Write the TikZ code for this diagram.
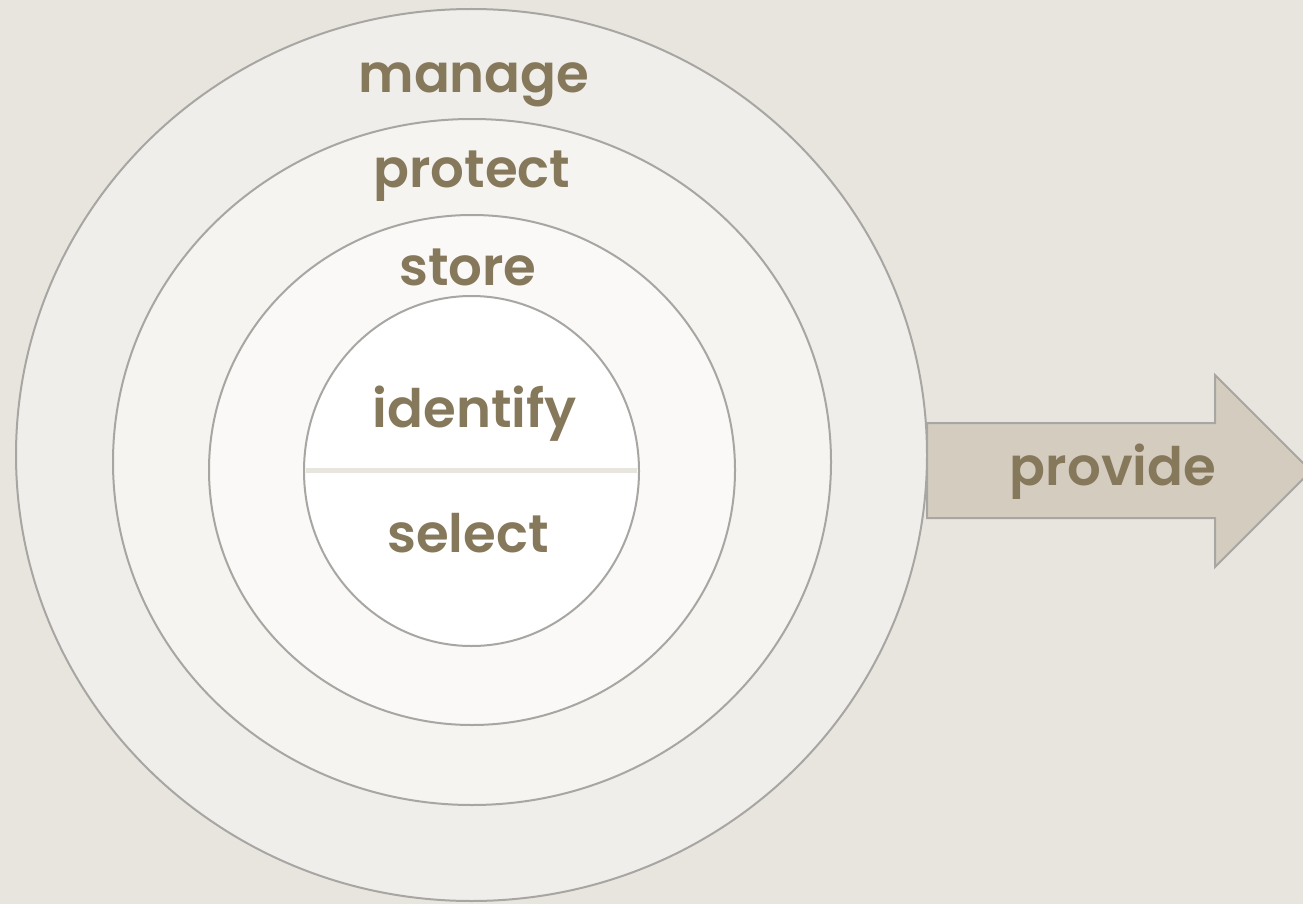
\documentclass[tikz,border=0pt]{standalone}
\usepackage{fontspec}
\setmainfont{Poppins}[BoldFont={Poppins SemiBold}]
\usetikzlibrary{shapes.geometric}
\definecolor{bg}{HTML}{E8E5DE}
\definecolor{cA}{HTML}{F0EEEA}
\definecolor{cB}{HTML}{F5F4F1}
\definecolor{cC}{HTML}{FAF9F7}
\definecolor{ringline}{HTML}{A8A6A2}
\definecolor{txt}{HTML}{86785A}
\definecolor{arrowfill}{HTML}{D4CCBF}
\definecolor{divider}{HTML}{E8E4DE}
\begin{document}
\begin{tikzpicture}[x=1pt,y=-1pt,
  ring/.style={draw=ringline, line width=2pt, ellipse, inner sep=0pt, outer sep=0pt},
  lbl/.style={text=txt, font=\fontsize{53}{58}\selectfont\bfseries, anchor=base, inner sep=0pt}]
\fill[bg] (0,0) rectangle (1303,904);
\useasboundingbox (0,0) rectangle (1303,904);
\clip (0,0) rectangle (1303,904);
\node[ring, fill=cA, minimum width=911pt, minimum height=892pt] (ringmanage) at (471.5,455) {};
\node[ring, fill=cB, minimum width=718pt, minimum height=686pt] (ringprotect) at (472,462) {};
\node[ring, fill=cC, minimum width=526pt, minimum height=510pt] (ringstore) at (472,470) {};
\node[ring, fill=white, minimum width=335pt, minimum height=350pt] (ringcore) at (471.5,471) {};
\coordinate (divL) at (306,470);
\coordinate (divR) at (637,470);
\draw[divider, line width=5pt] (divL) -- (divR);
% arrow
\draw[fill=arrowfill, draw=ringline, line width=2pt]
  (927,423) -- (1215,423) -- (1215,375) -- (1311,471) -- (1215,567) -- (1215,518) -- (927,518) -- cycle;
\node[lbl] (manage) at (474,93) {manage};
\node[lbl] (protect) at (472,188) {protect};
\node[lbl] (store) at (468,285) {store};
\node[lbl] (identify) at (475,427) {identify};
\node[lbl] (select) at (468,552) {select};
\node[lbl] (provide) at (1113,485) {provide};
\end{tikzpicture}
\end{document}
